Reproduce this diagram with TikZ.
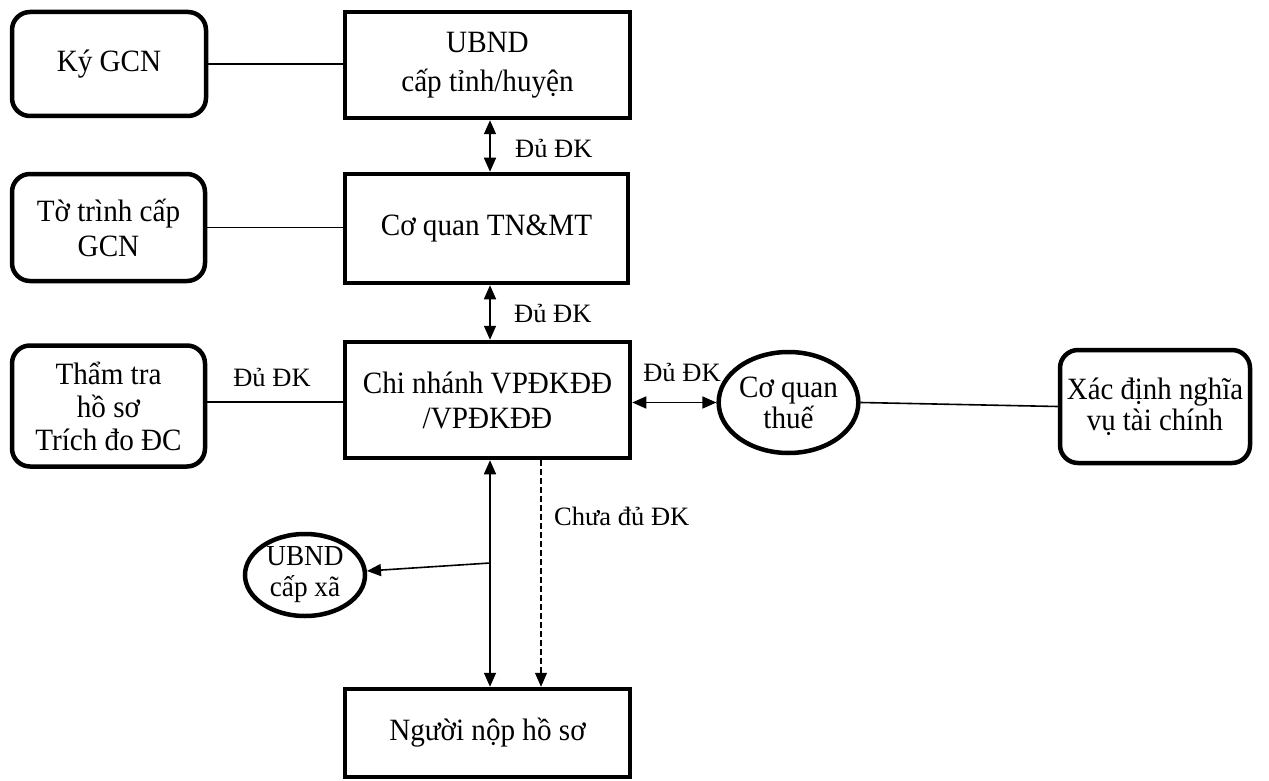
\documentclass[tikz,border=0pt]{standalone}
\usepackage{fontspec}
\setmainfont{Liberation Serif}
\usetikzlibrary{arrows.meta,shapes.geometric}
\begin{document}
\begin{tikzpicture}[x=1pt,y=-1pt,
  box/.style={draw,line width=4.5pt,rectangle,align=center,inner sep=0pt,
    font=\fontsize{31}{33}\selectfont\addfontfeature{FakeStretch=0.94}},
  rbox/.style={box,rounded corners=18pt},
  ell/.style={draw,line width=4.5pt,ellipse,align=center,inner sep=0pt,
    font=\fontsize{31}{31}\selectfont\addfontfeature{FakeStretch=0.94}},
  lbl/.style={font=\fontsize{26.5}{30}\selectfont,inner sep=0pt},
  con/.style={line width=1.6pt},
  dtip/.style={{Triangle[length=14pt,width=12pt]}-{Triangle[length=14pt,width=12pt]}},
  stip/.style={-{Triangle[length=14pt,width=12pt]}}
]
\useasboundingbox (0,0) rectangle (1269,781);
% nodes
\node[rbox,minimum width=194pt,minimum height=104pt] (ky) at (109,64) {Ký GCN};
\node[box,minimum width=285pt,minimum height=106pt] (ubnd) at (487.5,65) {UBND\\[6pt]cấp tỉnh/huyện};
\node[box,minimum width=283pt,minimum height=109pt] (tnmt) at (486.5,228.5) {Cơ quan TN\&MT};
\node[rbox,minimum width=193pt,minimum height=107pt] (tt) at (108.5,227.5) {Tờ trình cấp\\[2pt]GCN};
\node[rbox,minimum width=193pt,minimum height=121pt] (tht) at (108.5,406) {Thẩm tra\\hồ sơ\\Trích đo ĐC};
\node[box,minimum width=285pt,minimum height=116pt] (cn) at (487.5,400) {Chi nhánh VPĐKĐĐ\\[2pt]/VPĐKĐĐ};
\node[ell,minimum width=129pt,minimum height=101pt] (thue) at (788.5,402.5) {Cơ quan\\thuế};
\node[rbox,minimum width=190pt,minimum height=113pt,
  font=\fontsize{31}{31}\selectfont\addfontfeature{FakeStretch=0.93}] (xd) at (1155,406.5) {Xác định nghĩa\\vụ tài chính};
\node[ell,minimum width=120pt,minimum height=82pt,
  font=\fontsize{29}{31}\selectfont\addfontfeature{FakeStretch=0.94}] (xa) at (305,575) {UBND\\cấp xã};
\node[box,minimum width=285pt,minimum height=88pt] (nn) at (487.5,733) {Người nộp hồ sơ};
% helper coordinates
\coordinate (x1) at (490,0);
\coordinate (x2) at (541,0);
\coordinate (br) at (490,563);
% plain lines
\draw[con] (tht.east |- 0,402) coordinate (tr) -- (tr -| cn.west);
\draw[con] (ky.east) -- (ky.east -| ubnd.west);
\draw[con] (tt.east) -- (tt.east -| tnmt.west);
\draw[con] (thue.east) -- (xd.west);
% arrows
\draw[con,dtip] (ubnd.south -| x1) -- (tnmt.north -| x1);
\draw[con,dtip] (tnmt.south -| x1) -- (cn.north -| x1);
\draw[con,dtip] (cn.east |- thue.west) -- (thue.west);
\draw[con,dtip] (cn.south -| x1) -- (nn.north -| x1);
\draw[con,stip] (br) -- (xa);
\draw[line width=1.2pt,dash pattern=on 6pt off 3pt,stip] (cn.south -| x2) -- (nn.north -| x2);
% labels
\node[lbl,anchor=west] (l1) at (515,148) {Đủ ĐK};
\node[lbl,anchor=west] (l2) at (514,313) {Đủ ĐK};
\node[lbl] (l3) at (272,377) {Đủ ĐK};
\node[lbl] (l4) at (682,372) {Đủ ĐK};
\node[lbl,anchor=west] (l5) at (554,516) {Chưa đủ ĐK};
\end{tikzpicture}
\end{document}
